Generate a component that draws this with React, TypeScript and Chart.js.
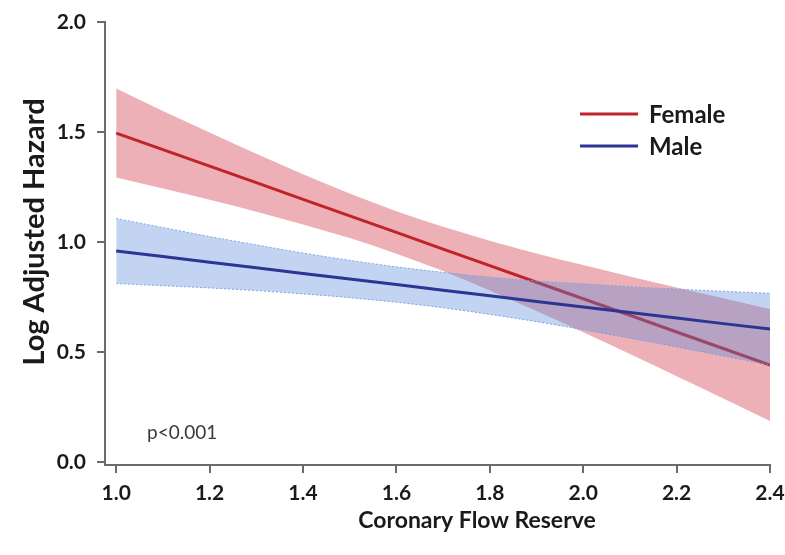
import React, { useEffect, useRef } from "react";
import { Chart, registerables } from "chart.js";

Chart.register(...registerables);

// ---- data ----
const cfr = [1.0, 1.1, 1.2, 1.3, 1.4, 1.5, 1.6, 1.7, 1.8, 1.9, 2.0, 2.1, 2.2, 2.3, 2.4];
const femaleHazard = [1.495, 1.42, 1.345, 1.27, 1.194, 1.119, 1.044, 0.968, 0.893, 0.817, 0.742, 0.667, 0.591, 0.516, 0.441];
const femaleUpper = [1.698, 1.596, 1.498, 1.401, 1.308, 1.22, 1.14, 1.069, 1.006, 0.948, 0.895, 0.843, 0.793, 0.744, 0.695];
const femaleLower = [1.293, 1.243, 1.192, 1.138, 1.08, 1.018, 0.947, 0.868, 0.78, 0.686, 0.59, 0.491, 0.39, 0.289, 0.186];
const maleHazard = [0.959, 0.934, 0.908, 0.883, 0.857, 0.832, 0.807, 0.781, 0.756, 0.73, 0.705, 0.68, 0.655, 0.629, 0.604];
const maleUpper = [1.107, 1.066, 1.025, 0.987, 0.95, 0.917, 0.887, 0.862, 0.84, 0.823, 0.81, 0.797, 0.786, 0.776, 0.767];
const maleLower = [0.811, 0.801, 0.791, 0.779, 0.764, 0.747, 0.726, 0.701, 0.671, 0.638, 0.601, 0.563, 0.523, 0.482, 0.44];

const xTicks = [1.0, 1.2, 1.4, 1.6, 1.8, 2.0, 2.2, 2.4];
const yTicks = [0.0, 0.5, 1.0, 1.5, 2.0];
const seriesNames = ["Female", "Male"];
const xTitle = "Coronary Flow Reserve";
const yTitle = "Log Adjusted Hazard";
const pValueText = "p<0.001";

const FONT = "Lato, 'Liberation Sans', Arial, sans-serif";
const RED = "#c1232b";
const BLUE = "#2b3593";
const TEXT = "#1a1a1a";

const pts = (ys: number[]) => cfr.map((x, i) => ({ x, y: ys[i] }));

export default function App() {
  const ref = useRef<HTMLCanvasElement | null>(null);

  useEffect(() => {
    if (!ref.current) return;

    const overlayPlugin = {
      id: "overlay",
      afterDraw(chart: any) {
        const ctx = chart.ctx as CanvasRenderingContext2D;
        ctx.save();
        // legend
        const items = chart.data.datasets.filter((d: any) => d.inLegend);
        items
          .sort((a: any, b: any) => seriesNames.indexOf(a.label) - seriesNames.indexOf(b.label))
          .forEach((d: any, i: number) => {
            const y = 114 + i * 32;
            ctx.strokeStyle = d.borderColor;
            ctx.lineWidth = 3;
            ctx.beginPath();
            ctx.moveTo(580, y);
            ctx.lineTo(638, y);
            ctx.stroke();
            ctx.fillStyle = TEXT;
            ctx.font = `bold 24px ${FONT}`;
            ctx.textBaseline = "middle";
            ctx.textAlign = "left";
            ctx.fillText(d.label, 649, y + 1);
          });
        // p value
        ctx.fillStyle = "#3a3a3a";
        ctx.font = `19px ${FONT}`;
        ctx.textBaseline = "middle";
        ctx.textAlign = "left";
        ctx.fillText(pValueText, 147, 433);
        // axis titles
        ctx.fillStyle = TEXT;
        ctx.textAlign = "center";
        ctx.font = `bold 23px ${FONT}`;
        ctx.fillText(xTitle, 477, 521);
        ctx.translate(35, 232);
        ctx.rotate(-Math.PI / 2);
        ctx.font = `bold 29px ${FONT}`;
        ctx.fillText(yTitle, 0, 0);
        ctx.restore();
      },
    };

    const axisGrid = {
      display: true,
      drawOnChartArea: false,
      drawTicks: true,
      tickLength: 8,
      color: "#6b6b6b",
      lineWidth: 2,
    };

    const bandEdge = {
      pointRadius: 0,
      cubicInterpolationMode: "monotone",
    };

    const chart = new Chart(ref.current, {
      type: "line",
      data: {
        datasets: [
          {
            label: seriesNames[1],
            data: pts(maleHazard),
            borderColor: BLUE,
            borderWidth: 3,
            pointRadius: 0,
            fill: false,
            order: 0,
            inLegend: true,
          } as any,
          {
            ...bandEdge,
            label: "Male upper",
            data: pts(maleUpper),
            borderColor: "rgba(120,165,225,0.9)",
            borderWidth: 1,
            borderDash: [2, 2],
            fill: "+1",
            backgroundColor: "rgba(85,135,215,0.36)",
            order: 1,
          },
          {
            ...bandEdge,
            label: "Male lower",
            data: pts(maleLower),
            borderColor: "rgba(120,165,225,0.9)",
            borderWidth: 1,
            borderDash: [2, 2],
            fill: false,
            order: 1,
          },
          {
            label: seriesNames[0],
            data: pts(femaleHazard),
            borderColor: RED,
            borderWidth: 3,
            pointRadius: 0,
            fill: false,
            order: 2,
            inLegend: true,
          } as any,
          {
            ...bandEdge,
            label: "Female upper",
            data: pts(femaleUpper),
            borderWidth: 0,
            borderColor: "rgba(0,0,0,0)",
            fill: "+1",
            backgroundColor: "rgba(215,80,95,0.45)",
            order: 3,
          },
          {
            ...bandEdge,
            label: "Female lower",
            data: pts(femaleLower),
            borderWidth: 0,
            borderColor: "rgba(0,0,0,0)",
            fill: false,
            order: 3,
          },
        ],
      },
      options: {
        responsive: false,
        animation: false,
        devicePixelRatio: 1,
        layout: { padding: { top: 22, right: 15, bottom: 0, left: 0 } },
        plugins: {
          legend: { display: false },
          tooltip: { enabled: false },
        },
        scales: {
          x: {
            type: "linear",
            min: 0.976,
            max: 2.4,
            afterBuildTicks: (s: any) => {
              s.ticks = xTicks.map((v) => ({ value: v }));
            },
            afterFit: (s: any) => {
              s.height = 90;
              s.paddingLeft = 0;
              s.paddingRight = 0;
            },
            grid: axisGrid,
            border: { display: true, color: "#6b6b6b", width: 2 },
            ticks: {
              padding: 8,
              color: TEXT,
              font: { family: FONT, size: 21, weight: "bold" },
              callback: (v: any) => Number(v).toFixed(1),
              maxRotation: 0,
            },
            title: { display: false },
          },
          y: {
            type: "linear",
            min: -0.0136,
            max: 2.0,
            afterBuildTicks: (s: any) => {
              s.ticks = yTicks.map((v) => ({ value: v }));
            },
            afterFit: (s: any) => {
              s.width = 105;
              s.paddingTop = 0;
              s.paddingBottom = 0;
            },
            grid: axisGrid,
            border: { display: true, color: "#6b6b6b", width: 2 },
            ticks: {
              padding: 11,
              color: TEXT,
              font: { family: FONT, size: 21, weight: "bold" },
              callback: (v: any) => Number(v).toFixed(1),
            },
            title: { display: false },
          },
        },
      },
      plugins: [overlayPlugin],
    });

    return () => chart.destroy();
  }, []);

  return (
    <div style={{ position: "absolute", left: 0, top: 0, width: 785, height: 555, background: "#fff" }}>
      <canvas ref={ref} width={785} height={555} style={{ width: 785, height: 555, display: "block" }} />
    </div>
  );
}
